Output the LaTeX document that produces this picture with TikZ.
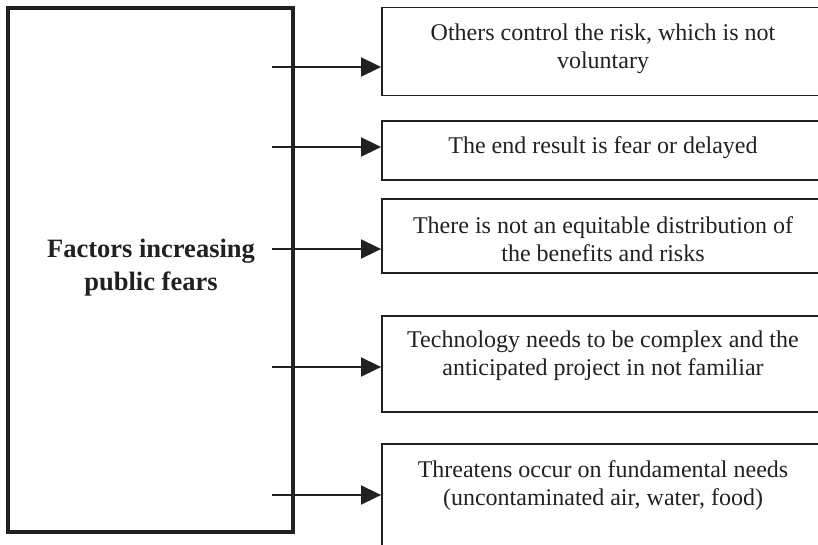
\documentclass[tikz,border=0pt]{standalone}
\usepackage{fontspec}
\setmainfont{Liberation Serif}
\usetikzlibrary{arrows.meta}
\definecolor{ink}{gray}{0.13}
\begin{document}
\begin{tikzpicture}[x=1pt,y=-1pt,
  mainbox/.style={draw=ink, line width=3.4pt, minimum width=285pt, minimum height=524pt, inner sep=0pt},
  item/.style={draw=ink, line width=1.8pt, minimum width=442pt, inner sep=0pt},
  itemtext/.style={font=\fontsize{24}{28}\selectfont, align=center, text=ink, inner sep=0pt},
  maintext/.style={font=\bfseries\fontsize{26.5}{33}\selectfont, align=center, text=ink, inner sep=0pt},
  link/.style={draw=ink, line width=1.6pt, -{Triangle[length=20pt,width=19pt]}}]
\useasboundingbox (0,0) rectangle (818,544);
\clip (0,0) rectangle (818,544);

% left block
\node[mainbox] (main) at (150.5,270) {};
\node[maintext] (mainlbl) at (151,268) {Factors increasing\\public fears};

% right-hand factor boxes
\node[item, minimum height=88pt]  (b1) at (603,51.5) {};
\node[item, minimum height=59pt]  (b2) at (603,150.8) {};
\node[item, minimum height=74pt]  (b3) at (603,236) {};
\node[item, minimum height=96pt]  (b4) at (603,364) {};
\node[item, minimum height=116pt] (b5) at (603,502) {};

\node[itemtext] (t1) at (603,49) {Others control the risk, which is not\\voluntary};
\node[itemtext] (t2) at (603,148) {The end result is fear or delayed};
\node[itemtext] (t3) at (603,239.5) {There is not an equitable distribution of\\the benefits and risks};
\node[itemtext] (t4) at (603,356) {Technology needs to be complex and the\\anticipated project in not familiar};
\node[itemtext] (t5) at (603,485.5) {Threatens occur on fundamental needs\\(uncontaminated air, water, food)};

% arrow starts inside the left block
\coordinate (s1) at (272,67);
\coordinate (s2) at (272,147);
\coordinate (s3) at (272,249);
\coordinate (s4) at (272,367);
\coordinate (s5) at (272,495);

\draw[link] (s1) -- (b1.west |- s1);
\draw[link] (s2) -- (b2.west |- s2);
\draw[link] (s3) -- (b3.west |- s3);
\draw[link] (s4) -- (b4.west |- s4);
\draw[link] (s5) -- (b5.west |- s5);
\end{tikzpicture}
\end{document}
